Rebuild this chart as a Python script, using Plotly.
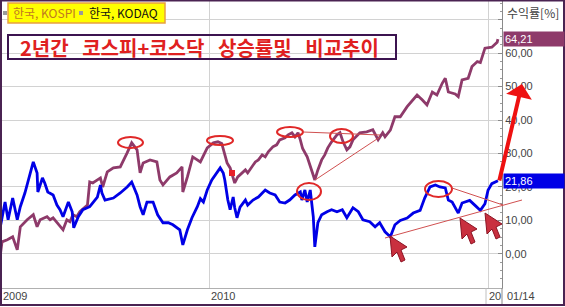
import plotly.graph_objects as go

# ---------------- data ----------------
kospi_dates = [
    "2009-04-01", "2009-04-04", "2009-04-11", "2009-04-18", "2009-04-24", "2009-04-28",
    "2009-05-07", "2009-05-15", "2009-05-20", "2009-05-24", "2009-06-02", "2009-06-06",
    "2009-06-10", "2009-06-19", "2009-06-23", "2009-06-28", "2009-07-02", "2009-07-06",
    "2009-07-11", "2009-07-15", "2009-07-25", "2009-07-28", "2009-08-01", "2009-08-11",
    "2009-08-14", "2009-08-20", "2009-08-28", "2009-09-06", "2009-09-10", "2009-09-15",
    "2009-09-21", "2009-09-28", "2009-10-02", "2009-10-06", "2009-10-15", "2009-10-24",
    "2009-10-28", "2009-11-01", "2009-11-10", "2009-11-19", "2009-11-26", "2009-11-27",
    "2009-12-03", "2009-12-10", "2009-12-20", "2009-12-29", "2010-01-06", "2010-01-12",
    "2010-01-17", "2010-01-19", "2010-01-24", "2010-01-28", "2010-02-01", "2010-02-03",
    "2010-02-07", "2010-02-13", "2010-02-17", "2010-02-20", "2010-02-26", "2010-03-02",
    "2010-03-06", "2010-03-11", "2010-03-15", "2010-03-19", "2010-03-25", "2010-03-30",
    "2010-04-03", "2010-04-10", "2010-04-14", "2010-04-19", "2010-04-23", "2010-04-27",
    "2010-04-30", "2010-05-03", "2010-05-09", "2010-05-13", "2010-05-17", "2010-05-19",
    "2010-05-23", "2010-05-28", "2010-06-01", "2010-06-05", "2010-06-10", "2010-06-17",
    "2010-06-21", "2010-06-25", "2010-06-30", "2010-07-04", "2010-07-08", "2010-07-17",
    "2010-07-26", "2010-08-03", "2010-08-10", "2010-08-16", "2010-08-19", "2010-08-26",
    "2010-09-01", "2010-09-08", "2010-09-17", "2010-09-25", "2010-09-30", "2010-10-07",
    "2010-10-13", "2010-10-20", "2010-10-26", "2010-11-02", "2010-11-06", "2010-11-10",
    "2010-11-19", "2010-11-23", "2010-11-28", "2010-12-06", "2010-12-11", "2010-12-18",
    "2010-12-22", "2010-12-28", "2011-01-06", "2011-01-13", "2011-01-14",
]
kospi_vals = [
    -1.8, 3.6, 4.2, 5.1, 1.2, 8.1,
    10.2, 11.7, 8.1, 10.2, 11.1, 10.2,
    10.8, 8.1, 7.2, 10.2, 9.6, 11.7,
    11.1, 12.6, 14.6, 21.5, 21.2, 22.7,
    20.0, 24.5, 25.7, 26.0, 28.1, 30.2,
    33.2, 31.1, 24.2, 27.2, 28.1, 27.5,
    22.1, 20.6, 23.0, 24.2, 26.0, 18.5,
    23.0, 29.0, 27.5, 31.7, 33.2, 33.5,
    33.0, 31.1, 27.2, 25.7, 23.0, 21.2,
    23.0, 24.2, 25.1, 24.2, 26.0, 27.5,
    28.1, 29.6, 29.0, 30.5, 32.0, 32.6,
    34.1, 34.7, 35.6, 36.2, 35.0, 36.2,
    34.1, 31.5, 29.0, 26.0, 23.0, 22.1,
    25.1, 28.1, 29.6, 31.7, 33.5, 35.6,
    36.2, 33.5, 31.1, 32.0, 34.1, 36.2,
    36.5, 37.1, 34.1, 36.2, 35.0, 37.0,
    41.0, 41.0, 44.0, 46.0, 47.5, 46.0,
    44.5, 48.4, 47.5, 51.0, 52.5, 48.4,
    47.8, 47.0, 52.0, 52.5, 56.0, 57.5,
    57.2, 61.5, 61.8, 63.3, 64.21,
]

kosdaq_dates = [
    "2009-04-01", "2009-04-04", "2009-04-08", "2009-04-12", "2009-04-18", "2009-04-24",
    "2009-04-28", "2009-05-04", "2009-05-11", "2009-05-15", "2009-05-20", "2009-05-21",
    "2009-05-27", "2009-05-30", "2009-06-03", "2009-06-10", "2009-06-15", "2009-06-19",
    "2009-06-23", "2009-06-28", "2009-06-30", "2009-07-05", "2009-07-07", "2009-07-13",
    "2009-07-19", "2009-07-28", "2009-08-07", "2009-08-11", "2009-08-13", "2009-08-17",
    "2009-08-28", "2009-09-06", "2009-09-15", "2009-09-21", "2009-09-28", "2009-10-02",
    "2009-10-06", "2009-10-11", "2009-10-19", "2009-10-25", "2009-11-01", "2009-11-08",
    "2009-11-14", "2009-11-23", "2009-11-27", "2009-12-03", "2009-12-09", "2009-12-16",
    "2009-12-20", "2009-12-24", "2009-12-29", "2010-01-04", "2010-01-11", "2010-01-15",
    "2010-01-19", "2010-01-21", "2010-01-25", "2010-01-28", "2010-02-01", "2010-02-03",
    "2010-02-06", "2010-02-10", "2010-02-17", "2010-02-20", "2010-02-27", "2010-03-06",
    "2010-03-15", "2010-03-21", "2010-03-28", "2010-04-03", "2010-04-10", "2010-04-16",
    "2010-04-23", "2010-04-30", "2010-05-02", "2010-05-06", "2010-05-09", "2010-05-13",
    "2010-05-17", "2010-05-19", "2010-05-23", "2010-05-28", "2010-06-04", "2010-06-10",
    "2010-06-17", "2010-06-24", "2010-06-30", "2010-07-08", "2010-07-15", "2010-07-21",
    "2010-07-30", "2010-08-06", "2010-08-12", "2010-08-19", "2010-08-26", "2010-09-01",
    "2010-09-08", "2010-09-17", "2010-09-25", "2010-10-04", "2010-10-10", "2010-10-17",
    "2010-10-24", "2010-10-30", "2010-11-06", "2010-11-10", "2010-11-15", "2010-11-23",
    "2010-11-28", "2010-12-08", "2010-12-15", "2010-12-22", "2010-12-28", "2011-01-01",
    "2011-01-06", "2011-01-10", "2011-01-14",
]
kosdaq_vals = [
    7.1, 11.0, 15.5, 10.2, 16.7, 10.2,
    14.1, 18.2, 24.2, 27.5, 24.2, 18.5,
    22.7, 21.2, 18.5, 17.6, 14.6, 13.2,
    11.1, 14.1, 15.5, 12.6, 7.8, 11.1,
    13.2, 14.1, 17.0, 20.6, 18.2, 16.1,
    16.7, 18.2, 20.0, 21.5, 17.6, 14.1,
    11.7, 15.5, 15.5, 11.7, 9.3, 9.3,
    8.7, 7.2, 2.7, 7.2, 10.8, 14.1,
    16.5, 15.5, 19.1, 22.1, 24.2, 25.7,
    24.2, 22.1, 16.1, 13.2, 17.0, 13.8,
    10.8, 14.0, 16.1, 14.6, 16.1, 17.0,
    19.1, 18.2, 17.6, 15.5, 15.2, 16.1,
    17.6, 18.5, 16.1, 19.1, 15.5, 19.1,
    11.1, 2.1, 9.3, 11.7, 12.6, 13.2,
    12.6, 13.2, 10.8, 13.8, 12.6, 10.2,
    9.6, 8.1, 9.3, 6.6, 5.1, 8.7,
    10.0, 10.7, 12.2, 13.0, 16.7, 20.0,
    20.6, 20.0, 19.7, 16.1, 15.5, 12.2,
    15.2, 16.0, 14.5, 13.0, 15.0, 19.0,
    21.0, 21.5, 21.86,
]

y_tick_vals = [-10, 0, 10, 20, 30, 40, 50, 60, 70]
y_tick_text = ["", "0,00", "10,00", "20,00", "30,00", "40,00", "50,00", "60,00", ""]
x_grid_dates = ["2010-01-01", "2011-01-01"]
x_labels = ["2009", "2010", "20", "01/14"]
series_names = ["한국, KOSPI", "한국, KODAQ"]
title_text = "2년간\u00a0\u00a0\u00a0코스피+코스닥\u00a0\u00a0\u00a0상승률및\u00a0\u00a0\u00a0비교추이"
axis_title = "수익률[%]"

PURPLE = "#8e3a6a"
BLUE = "#0000e6"
RED = "#e02828"
GRID = "#d2d2d2"

# ---------------- figure ----------------
W, H = 565, 307
L, R, T, B = 2, 502, 0, 288


def xp(p):
    return (p - L) / (R - L)


def yp(p):
    return (B - p) / (B - T)


fig = go.Figure()
fig.add_trace(go.Scatter(x=kospi_dates, y=kospi_vals, mode="lines", name=series_names[0],
                         line=dict(color=PURPLE, width=2.8)))
fig.add_trace(go.Scatter(x=kosdaq_dates, y=kosdaq_vals, mode="lines", name=series_names[1],
                         line=dict(color=BLUE, width=2.8)))

fig.update_layout(
    width=W, height=H, autosize=False,
    margin=dict(l=L, r=W - R, t=T, b=H - B, pad=0),
    paper_bgcolor="white", plot_bgcolor="white",
    showlegend=False, hovermode=False,
    xaxis=dict(type="date", range=["2009-04-04", "2011-01-19 08:00"],
               tickvals=x_grid_dates, showticklabels=False, ticks="",
               showgrid=True, gridcolor=GRID, gridwidth=1, zeroline=False,
               showline=True, linecolor="#b0b0b0", linewidth=1),
    yaxis=dict(side="right", range=[-10.2, 75.9], tickvals=y_tick_vals, ticktext=y_tick_text,
               showgrid=True, gridcolor=GRID, gridwidth=1, zeroline=False,
               showline=True, linecolor="#8a8a8a", linewidth=1,
               ticks="inside", ticklen=4, tickcolor="#8a8a8a",
               tickfont=dict(family="Liberation Sans", size=11, color="#444444"),
               minor=dict(dtick=2.5, ticks="inside", ticklen=2, tickcolor="#9a9a9a", showgrid=False)),
)

shapes = []
annotations = []

# red ellipses (hand-drawn highlights), in pixel boxes
ellipses = [(118, 137, 143, 148), (207, 136, 233, 145), (277, 127, 303, 137),
            (330, 129, 353, 143), (297, 183, 321, 200), (425, 181, 452, 197)]
for x0, y0, x1, y1 in ellipses:
    shapes.append(dict(type="circle", xref="paper", yref="paper", x0=xp(x0), x1=xp(x1),
                       y0=yp(y1), y1=yp(y0), line=dict(color=RED, width=2), layer="above"))

# thin trend lines
trend = [(303, 132, 380, 135), (315, 180, 380, 137), (385, 238, 522, 200), (452, 188, 503, 205)]
for x0, y0, x1, y1 in trend:
    shapes.append(dict(type="line", xref="paper", yref="paper", x0=xp(x0), y0=yp(y0),
                       x1=xp(x1), y1=yp(y1), line=dict(color="#d05050", width=1), layer="above"))

# cursor-style arrows
cursor = [(0, 0), (2, 21), (7, 16), (11, 26), (15, 24), (11, 14), (17, 11)]
for tx, ty in [(390, 236), (460, 218), (485, 213)]:
    pts = [(xp(tx + dx), yp(ty + dy)) for dx, dy in cursor]
    path = "M " + " L ".join(f"{a:.5f},{b:.5f}" for a, b in pts) + " Z"
    shapes.append(dict(type="path", xref="paper", yref="paper", path=path,
                       fillcolor="#c9303f", line=dict(color="#8c1424", width=1), layer="above"))

# small red square
shapes.append(dict(type="rect", xref="paper", yref="paper", x0=xp(229), x1=xp(235),
                   y0=yp(176), y1=yp(170), fillcolor="#e8202a", line=dict(width=0), layer="above"))

# legend box
shapes.append(dict(type="rect", xref="paper", yref="paper", x0=xp(8), x1=xp(165),
                   y0=yp(23), y1=yp(3), fillcolor="#ffff00", line=dict(color="#e8a040", width=1.5),
                   layer="above"))
for sx in (3, 79):
    shapes.append(dict(type="rect", xref="paper", yref="paper", x0=xp(sx), x1=xp(sx + 4),
                       y0=yp(15), y1=yp(11), fillcolor="#9a9a9a", line=dict(width=0), layer="above"))
annotations.append(dict(xref="paper", yref="paper", x=xp(11), y=yp(13), xanchor="left", yanchor="middle",
                        text=series_names[0], showarrow=False,
                        font=dict(family="Noto Sans CJK KR", size=12, color="#c07820")))
annotations.append(dict(xref="paper", yref="paper", x=xp(87), y=yp(13), xanchor="left", yanchor="middle",
                        text=series_names[1], showarrow=False,
                        font=dict(family="Noto Sans CJK KR", size=12, color="#111111")))

# title box
shapes.append(dict(type="rect", xref="paper", yref="paper", x0=xp(8), x1=xp(396),
                   y0=yp(59), y1=yp(35), line=dict(color="#3c1450", width=2), layer="above"))
annotations.append(dict(xref="paper", yref="paper", x=xp(199), y=yp(47.5), xanchor="center", yanchor="middle",
                        text=title_text, showarrow=False,
                        font=dict(family="Noto Sans CJK KR", size=20, color="#e02020", weight="bold")))

# axis title
annotations.append(dict(xref="paper", yref="paper", x=xp(505), y=yp(13), xanchor="left", yanchor="middle",
                        text=axis_title, showarrow=False,
                        font=dict(family="Noto Sans CJK KR", size=12, color="#444444")))

# last-value boxes
for val, col in [(kospi_vals[-1], PURPLE), (kosdaq_vals[-1], BLUE)]:
    annotations.append(dict(xref="paper", yref="y", x=xp(503), y=val, xanchor="left", yanchor="middle",
                            text=f"{val:.2f}".replace(".", ","), showarrow=False, bgcolor=col,
                            width=58, height=12, align="left", borderpad=1,
                            font=dict(family="Liberation Sans", size=11, color="white")))

# x labels
for lbl, px_ in zip(x_labels, [1, 209, 487, 505]):
    annotations.append(dict(xref="paper", yref="paper", x=xp(px_), y=yp(296), xanchor="left",
                            yanchor="middle", text=lbl, showarrow=False,
                            font=dict(family="Liberation Sans", size=11, color="#444444")))

# big red arrow
annotations.append(dict(xref="paper", yref="paper", x=xp(522), y=yp(84), text="", showarrow=True,
                        ax=-23, ay=98, arrowhead=1, arrowsize=1.1, arrowwidth=4, arrowcolor="#ee1111"))

# separators in the label strip and outer frame
shapes.append(dict(type="line", xref="paper", yref="paper", x0=xp(R), x1=xp(R), y0=yp(288), y1=yp(305),
                   line=dict(color="#8a8a8a", width=1)))
shapes.append(dict(type="line", xref="paper", yref="paper", x0=xp(486), x1=xp(486), y0=yp(288), y1=yp(305),
                   line=dict(color="#c0c0c0", width=1)))
shapes.append(dict(type="rect", xref="paper", yref="paper", x0=xp(1), x1=xp(564), y0=yp(305), y1=yp(0.5),
                   line=dict(color="#4a2352", width=2)))

fig.update_layout(shapes=shapes, annotations=annotations)
fig.write_html("out.html")
